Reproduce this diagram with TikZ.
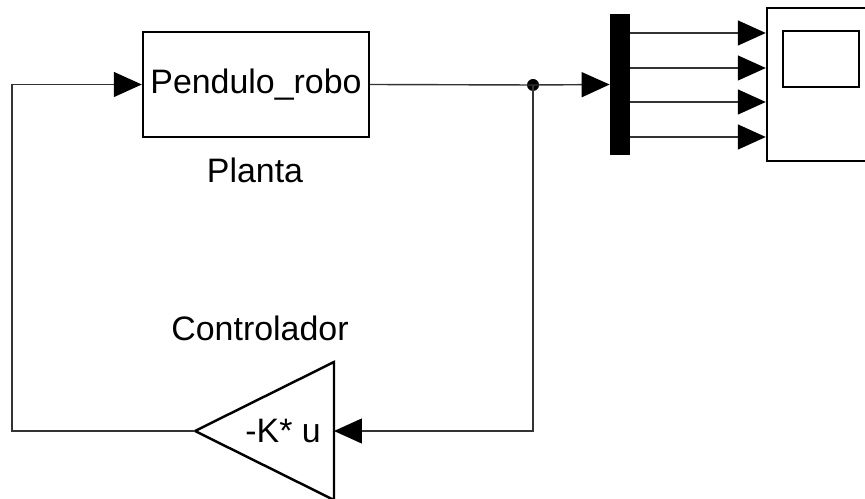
\documentclass[tikz,border=0pt]{standalone}
\usepackage{fontspec}
\setmainfont{Liberation Sans}
\usetikzlibrary{arrows.meta,positioning}
\begin{document}
\begin{tikzpicture}[x=0.02cm, y=-0.02cm,
  blk/.style={draw, line width=1.4pt, fill=white},
  sig/.style={draw=black!80, line width=0.8pt},
  tip/.style={-{Triangle[length=0.56cm, width=0.5cm, color=black]}},
  lbl/.style={font=\fontsize{19.3}{23}\selectfont}]
\useasboundingbox (0,0) rectangle (865,499);
\clip (0,0) rectangle (865,499);
\node[blk, minimum width=4.52cm, minimum height=2.1cm, lbl] (plant) at (256,84.5) {Pendulo\_robo};
\node[lbl] (plantlbl) at (255,170) {Planta};
\node[fill=black, inner sep=0pt, minimum width=0.4cm, minimum height=2.82cm] (demux) at (620,84.5) {};
\node[blk, minimum width=2.76cm, minimum height=3.06cm] (scope) at (836,84.5) {};
\draw[line width=0.9pt] (783,31) rectangle (859,87);
\fill (533,85) circle (0.12cm) coordinate (dot);
\draw[line width=1.4pt, fill=white] (334,362) -- (334,500) -- (195,431) -- cycle;
\coordinate (kin) at (334,431);
\coordinate (kout) at (195,431);
\node[lbl, anchor=east] (gain) at (327,431) {-K* u};
\node[lbl] (ctrl) at (260,328) {Controlador};
\coordinate (fb) at (12,431);
\draw[sig] (plant.east) -- (dot);
\draw[sig, tip] (dot) -- (demux.west);
\draw[sig, tip] (dot) |- (kin);
\draw[sig, tip] (kout) -- (fb) |- (plant.west);
\foreach \y in {33,68,102,137}
  \draw[sig, tip] (demux.east |- 0,\y) -- (scope.west |- 0,\y);
\end{tikzpicture}
\end{document}
